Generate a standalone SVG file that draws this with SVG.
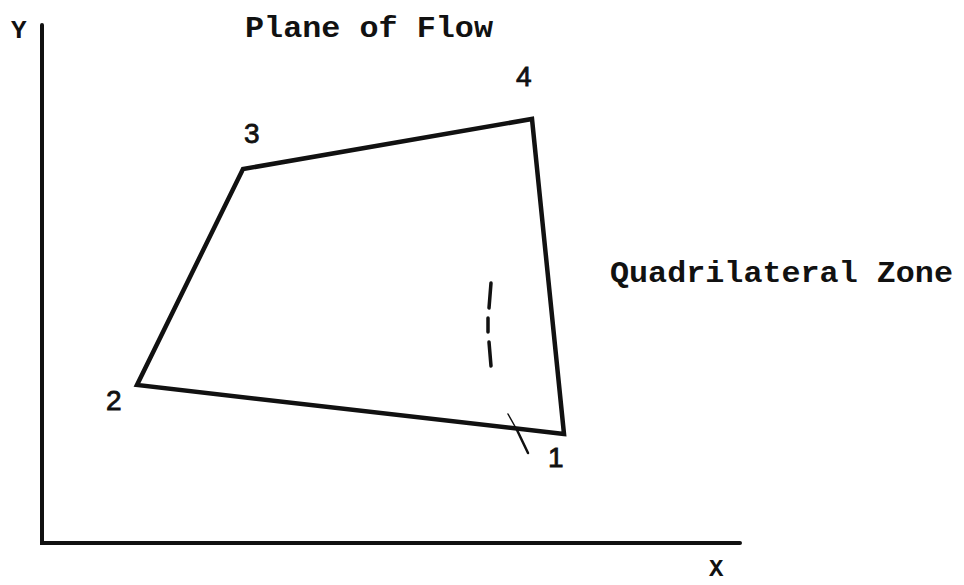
<svg xmlns="http://www.w3.org/2000/svg" width="964" height="585" viewBox="0 0 964 585">
<style>
.tw{font-family:"Liberation Mono","DejaVu Sans Mono",monospace;font-weight:bold;fill:#111}
.num{font-family:"Liberation Sans","DejaVu Sans",sans-serif;fill:#111;stroke:#111;stroke-width:0.8;font-size:28px}
.ln{fill:none;stroke:#111;stroke-linecap:round;stroke-linejoin:miter}
</style>
<rect width="964" height="585" fill="#fff"/>
<g id="axes">
<path class="ln" d="M42,25 V543 H740" stroke-width="4"/>
<text class="tw" x="11" y="38" font-size="26">Y</text>
<text class="tw" x="709" y="576" font-size="24">X</text>
</g>
<g id="title"><text class="tw" x="245" y="37" font-size="29" textLength="248" lengthAdjust="spacingAndGlyphs">Plane of Flow</text></g>
<g id="zone">
<polygon class="ln" points="564,434 137,385 243,169 532,119" stroke-width="4.5"/>
</g>
<g id="marks">
<path class="ln" d="M491,283 L489,308 M488,318 L488,332 M489,342 L491,366" stroke-width="3.5"/>
<path class="ln" d="M508,414 L517,430" stroke="#bbb" stroke-width="1.5"/>
<path class="ln" d="M517,430 L528,453" stroke-width="2.5"/>
</g>
<g id="labels">
<text class="num" x="516" y="86">4</text>
<text class="num" x="244" y="143">3</text>
<text class="num" x="106" y="410">2</text>
<text class="num" x="548" y="467">1</text>
</g>
<g id="zone-label"><text class="tw" x="610" y="282" font-size="29" textLength="343" lengthAdjust="spacingAndGlyphs">Quadrilateral Zone</text></g>
</svg>
